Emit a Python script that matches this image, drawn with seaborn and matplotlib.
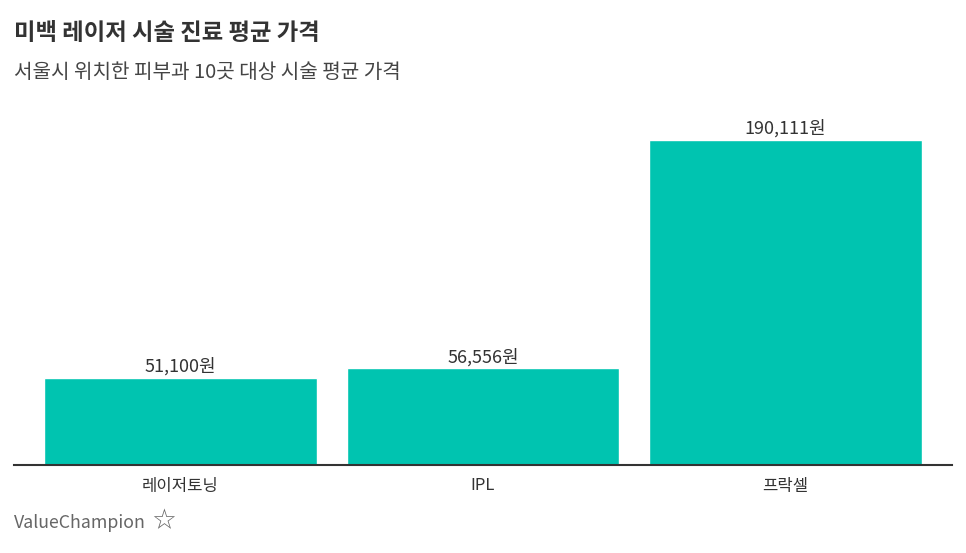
import matplotlib
matplotlib.use("Agg")
import matplotlib.pyplot as plt
import seaborn as sns
import pandas as pd

sns.set_style(style="white")
plt.rcParams['font.family'] = ['Noto Sans CJK KR', 'DejaVu Sans']

# 데이터
categories = ['레이저토닝', 'IPL', '프락셀']
prices = [51100, 56556, 190111]
value_labels = ['51,100원', '56,556원', '190,111원']

df = pd.DataFrame({'treatment': categories, 'price': prices})

fig = plt.figure(figsize=(9.66, 5.53), dpi=100)
ax = fig.add_axes([14/966, 88/553, 938/966, 365/553])

sns.barplot(data=df, x='treatment', y='price', color='#00c4b0', saturation=1,
            width=0.9, ax=ax)

ax.set_xlim(-0.55, 2.55)
ax.set_ylim(0, 190111 * 365 / 325)

for i, (v, lab) in enumerate(zip(prices, value_labels)):
    ax.text(i, v + 190111 * 2 / 325, lab, ha='center', va='bottom',
            fontsize=13, color='#333333')

for s in ['top', 'right', 'left']:
    ax.spines[s].set_visible(False)
ax.spines['bottom'].set_color('#333333')
ax.spines['bottom'].set_linewidth(1.5)
ax.set_yticks([])
ax.set_xlabel('')
ax.set_ylabel('')
ax.tick_params(axis='x', length=0, pad=9, labelsize=12, labelcolor='#333333')

fig.text(14/966, 1 - 33/553, '미백 레이저 시술 진료 평균 가격', fontsize=16.8,
         fontweight='bold', color='#333333', va='center', ha='left')
fig.text(14/966, 1 - 73/553, '서울시 위치한 피부과 10곳 대상 시술 평균 가격',
         fontsize=14.5, color='#444444', va='center', ha='left')
fig.text(14/966, 1 - 523/553, 'ValueChampion', fontsize=12.8,
         color='#666666', va='center', ha='left')
fig.text(151/966, 1 - 521/553, '☆', fontsize=20,
         color='#666666', va='center', ha='left', family=['DejaVu Sans'])

plt.savefig('out.png', dpi=100)
